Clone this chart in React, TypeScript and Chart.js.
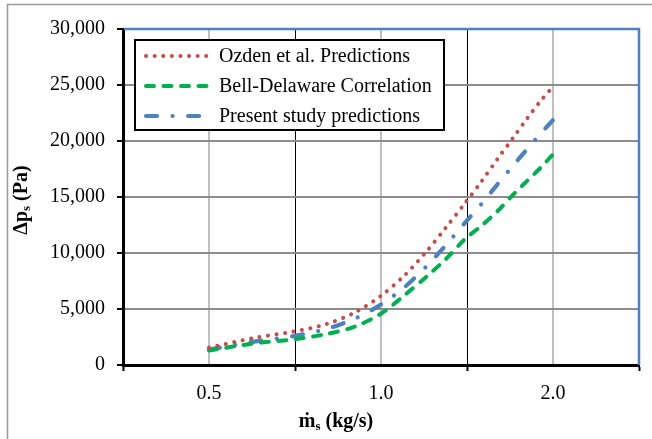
import React, { useEffect, useRef } from 'react';
import { Chart, registerables } from 'chart.js';

Chart.register(...registerables);

// ---- data ----
const massFlow = [0.5, 0.6, 0.7, 0.8, 0.9, 1.0, 1.1, 1.2, 1.3, 1.4, 1.5, 1.6, 1.7, 1.8, 1.9, 2.0];
const ozden = [1550, 2420, 2970, 3630, 4690, 6180, 8010, 10110, 12300, 14390, 16410, 18410, 20230, 21980, 23540, 24850];
const bellDelaware = [1300, 1930, 2280, 2750, 3430, 4580, 6240, 7870, 9480, 11200, 12450, 13750, 15160, 16420, 17590, 18800];
const present = [1380, 2090, 2570, 3200, 4140, 5400, 6960, 8790, 10720, 12650, 14390, 16150, 17760, 19250, 20630, 21870];

const seriesNames = ['Ozden et al. Predictions', 'Bell-Delaware Correlation', 'Present study predictions'];
const xTickLabels = [0.5, 1.0, 2.0];
const xBoundaries = [Math.pow(2, -1.5), Math.pow(2, -0.5), Math.pow(2, 0.5), Math.pow(2, 1.5)];
const yTickValues = [0, 5000, 10000, 15000, 20000, 25000, 30000];

const FONT = '"Liberation Serif", "Times New Roman", serif';
const RED = '#C0504D';
const GREEN = '#00B050';
const BLUE = '#4F81BD';

const styles = [
  { color: RED, width: 4, dash: [0.1, 8.5] },
  { color: GREEN, width: 4, dash: [8, 9.5] },
  { color: BLUE, width: 4.2, dash: [11, 15.5, 0.1, 15.5] },
];

const isCenter = (v: number) => xTickLabels.some((c) => Math.abs(c - v) < 1e-6);

function drawSubText(ctx: CanvasRenderingContext2D, parts: { t: string; sub?: boolean }[], cx: number, cy: number) {
  const big = `bold 20px ${FONT}`;
  const small = `bold 13px ${FONT}`;
  let total = 0;
  for (const p of parts) {
    ctx.font = p.sub ? small : big;
    total += ctx.measureText(p.t).width;
  }
  let x = cx - total / 2;
  ctx.textBaseline = 'middle';
  ctx.textAlign = 'left';
  for (const p of parts) {
    ctx.font = p.sub ? small : big;
    ctx.fillText(p.t, x, p.sub ? cy + 5 : cy);
    x += ctx.measureText(p.t).width;
  }
}

const decorPlugin = {
  id: 'decor',
  beforeDraw(chart: any) {
    const ctx = chart.ctx as CanvasRenderingContext2D;
    ctx.save();
    ctx.fillStyle = '#ffffff';
    ctx.fillRect(0, 0, chart.width, chart.height);
    ctx.strokeStyle = '#9a9a9a';
    ctx.lineWidth = 1.5;
    ctx.strokeRect(7.5, 4.5, 800, 600);
    ctx.restore();
  },
  afterDraw(chart: any) {
    const ctx = chart.ctx as CanvasRenderingContext2D;
    const a = chart.chartArea;
    ctx.save();
    // top and right plot border
    ctx.strokeStyle = BLUE;
    ctx.lineWidth = 2.5;
    ctx.beginPath();
    ctx.moveTo(a.left + 1, a.top);
    ctx.lineTo(a.right, a.top);
    ctx.lineTo(a.right, a.bottom);
    ctx.stroke();

    // legend
    const lx = 135, ly = 40, lw = 309, lh = 90;
    ctx.fillStyle = '#ffffff';
    ctx.fillRect(lx, ly, lw, lh);
    ctx.strokeStyle = '#000';
    ctx.lineWidth = 2;
    ctx.strokeRect(lx, ly, lw, lh);
    const rows = [56, 86, 116];
    seriesNames.forEach((name, i) => {
      const s = styles[i];
      ctx.save();
      ctx.strokeStyle = s.color;
      ctx.lineWidth = s.width;
      ctx.lineCap = 'round';
      ctx.setLineDash(s.dash);
      ctx.beginPath();
      ctx.moveTo(146, rows[i]);
      ctx.lineTo(i === 2 ? 202 : 210, rows[i]);
      ctx.stroke();
      ctx.restore();
      ctx.fillStyle = '#000';
      ctx.font = `20px ${FONT}`;
      ctx.textAlign = 'left';
      ctx.textBaseline = 'middle';
      ctx.fillText(name, 219, rows[i] + 1);
    });

    // axis titles
    ctx.fillStyle = '#000';
    drawSubText(ctx, [{ t: '\u1E41' }, { t: 's', sub: true }, { t: ' (kg/s)' }], 336, 422);
    ctx.save();
    ctx.translate(22, 200);
    ctx.rotate(-Math.PI / 2);
    drawSubText(ctx, [{ t: '\u0394p' }, { t: 's', sub: true }, { t: ' (Pa)' }], 0, 0);
    ctx.restore();
    ctx.restore();
  },
};

export default function App() {
  const ref = useRef<HTMLCanvasElement | null>(null);
  useEffect(() => {
    if (!ref.current) return;
    const datasets = [ozden, bellDelaware, present].map((vals, i) => ({
      label: seriesNames[i],
      data: massFlow.map((m, j) => ({ x: m, y: vals[j] })),
      borderColor: styles[i].color,
      backgroundColor: styles[i].color,
      borderWidth: styles[i].width,
      borderDash: styles[i].dash,
      borderCapStyle: 'round' as const,
      pointRadius: 0,
      tension: 0.3,
      fill: false,
    }));
    const chart = new Chart(ref.current, {
      type: 'line',
      data: { datasets },
      plugins: [decorPlugin],
      options: {
        animation: false,
        responsive: false,
        maintainAspectRatio: false,
        layout: { padding: { top: 29, right: 13, left: 0, bottom: 0 } },
        plugins: { legend: { display: false }, tooltip: { enabled: false } },
        scales: {
          x: {
            type: 'logarithmic',
            min: xBoundaries[0],
            max: xBoundaries[xBoundaries.length - 1],
            afterBuildTicks: (s: any) => {
              const vals = [...xBoundaries, ...xTickLabels].sort((p, q) => p - q);
              s.ticks = vals.map((v) => ({ value: v }));
            },
            afterFit: (s: any) => { s.height = 74; },
            ticks: {
              autoSkip: false,
              maxRotation: 0,
              minRotation: 0,
              padding: 11,
              color: '#000',
              font: { family: FONT, size: 20 },
              callback: (v: any) => (isCenter(Number(v)) ? Number(v).toFixed(1) : ''),
            },
            grid: {
              color: (c: any) => (c.tick && isCenter(c.tick.value) ? '#c0c0c0' : '#000'),
              lineWidth: (c: any) => (c.tick && isCenter(c.tick.value) ? 2 : 1),
              tickColor: (c: any) => (c.tick && isCenter(c.tick.value) ? 'rgba(0,0,0,0)' : '#000'),
              tickLength: 6,
              tickWidth: 2,
            },
            border: { color: '#000', width: 3 },
          },
          y: {
            type: 'linear',
            min: 0,
            max: 30000,
            afterBuildTicks: (s: any) => { s.ticks = yTickValues.map((v) => ({ value: v })); },
            afterFit: (s: any) => { s.width = 123; },
            ticks: {
              padding: 12,
              color: '#000',
              font: { family: FONT, size: 20 },
              callback: (v: any) => Number(v).toLocaleString('en-US'),
            },
            grid: {
              color: '#8c8c8c',
              lineWidth: 2,
              tickColor: '#000',
              tickLength: 6,
              tickWidth: 2,
            },
            border: { color: '#000', width: 3 },
          },
        },
      },
    } as any);
    return () => chart.destroy();
  }, []);
  return (
    <div style={{ position: 'absolute', left: 0, top: 0, width: 652, height: 439, background: '#fff' }}>
      <canvas ref={ref} width={652} height={439} style={{ width: 652, height: 439, display: 'block' }} />
    </div>
  );
}
